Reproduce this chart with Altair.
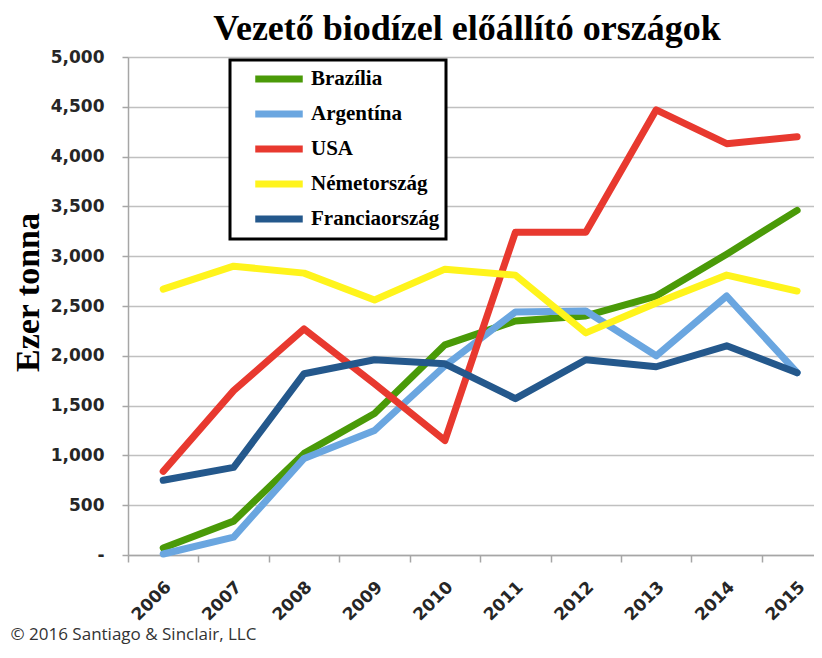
import altair as alt
import pandas as pd

years = [2006, 2007, 2008, 2009, 2010, 2011, 2012, 2013, 2014, 2015]
countries = ["Brazília", "Argentína", "USA", "Németország", "Franciaország"]
colors = ["#4a9a08", "#6aa6e0", "#e8392f", "#fff41c", "#24588c"]

brazil = [70, 340, 1020, 1420, 2110, 2350, 2400, 2600, 3020, 3460]
argentina = [10, 180, 970, 1250, 1900, 2440, 2450, 2000, 2600, 1830]
usa = [840, 1650, 2270, 1720, 1150, 3240, 3240, 4470, 4130, 4200]
germany = [2670, 2900, 2830, 2560, 2870, 2810, 2230, 2530, 2810, 2650]
france = [750, 880, 1820, 1960, 1920, 1570, 1960, 1890, 2100, 1830]

y_ticks = [0, 500, 1000, 1500, 2000, 2500, 3000, 3500, 4000, 4500, 5000]
x_tick_pos = [y - 0.5 for y in years]

series = [brazil, argentina, usa, germany, france]
rows = []
for order, (name, vals) in enumerate(zip(countries, series)):
    for yr, v in zip(years, vals):
        rows.append({"year": yr, "value": v, "country": name, "ord": order})
df = pd.DataFrame(rows)

chart = alt.Chart(df).mark_line(
    strokeWidth=7, strokeCap="round", strokeJoin="round"
).encode(
    x=alt.X(
        "year:Q",
        scale=alt.Scale(domain=[2005.5, 2015.24], nice=False, zero=False),
        axis=alt.Axis(
            values=x_tick_pos,
            labelExpr="format(datum.value + 0.5, 'd')",
            labelAngle=-45,
            labelAlign="right",
            labelBaseline="middle",
            labelOffset=40,
            labelPadding=22,
            labelFont="DejaVu Sans",
            labelFontWeight="bold",
            labelFontSize=17,
            labelColor="#262626",
            tickSize=7,
            tickColor="#a6a6a6",
            tickWidth=1.5,
            domainColor="#a6a6a6",
            domainWidth=1.5,
            grid=False,
            title="© 2016 Santiago & Sinclair, LLC",
            titleFont="Open Sans",
            titleFontSize=17,
            titleFontWeight="normal",
            titleColor="#333333",
            titleX=-118,
            titleY=84,
            titleAlign="left",
            titleBaseline="alphabetic",
            titleAnchor="start",
        ),
    ),
    y=alt.Y(
        "value:Q",
        scale=alt.Scale(domain=[0, 5000], nice=False),
        axis=alt.Axis(
            values=y_ticks,
            format=",d",
            labelExpr="datum.value == 0 ? '-' : datum.label",
            labelFont="DejaVu Sans",
            labelFontWeight="bold",
            labelFontSize=17,
            labelColor="#262626",
            labelPadding=18,
            tickSize=6,
            tickColor="#a6a6a6",
            tickWidth=1.5,
            domainColor="#a6a6a6",
            domainWidth=1.5,
            grid=True,
            gridColor="#c0c0c0",
            gridWidth=1.5,
            title="Ezer tonna",
            titleFont="Liberation Serif",
            titleFontSize=34,
            titleFontWeight="bold",
            titleColor="black",
            titleAngle=270,
            titleX=-90,
            titleY=235,
            titleAlign="center",
            titleBaseline="alphabetic",
        ),
    ),
    color=alt.Color(
        "country:N",
        scale=alt.Scale(domain=countries, range=colors),
        legend=alt.Legend(
            orient="none",
            legendX=102,
            legendY=3,
            title=None,
            symbolType="M-2.5,0H2.5",
            symbolSize=361,
            symbolStrokeWidth=7,
            symbolOffset=30,
            labelFont="Liberation Serif",
            labelFontSize=21,
            labelFontWeight="bold",
            labelColor="black",
            labelOffset=19,
            labelLimit=300,
            rowPadding=7,
            padding=6,
            fillColor="white",
            strokeColor="black",
        ),
    ),
    order=alt.Order("ord:Q"),
).properties(
    width=686,
    height=498,
    autosize=alt.AutoSizeParams(type="none"),
    padding={"left": 120, "top": 49, "right": 0, "bottom": 91},
    title=alt.Title(
        "Vezető biodízel előállító országok",
        font="Liberation Serif",
        fontSize=36,
        fontWeight="bold",
        color="black",
        anchor="middle",
        offset=0,
        dx=-4,
    ),
).configure_view(
    stroke=None
).configure_legend(
    strokeWidth=3
)

chart.save("out.html", embed_options={"renderer": "svg", "actions": False})
